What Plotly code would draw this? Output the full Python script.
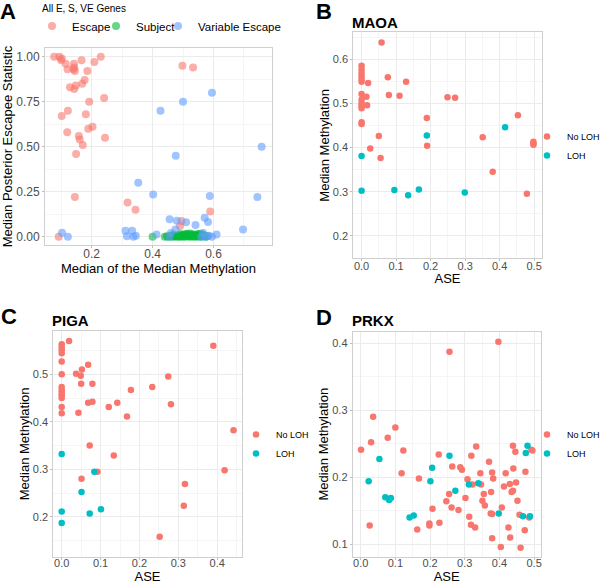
import plotly.graph_objects as go

W, H = 602, 584

# ---- Panel A: all E, S, VE genes ----
esc_x = [0.077, 0.094, 0.102, 0.100, 0.115, 0.142, 0.140, 0.143, 0.121, 0.145, 0.167, 0.209, 0.230,
         0.186, 0.177, 0.169, 0.129, 0.148, 0.143, 0.192, 0.241, 0.122, 0.102, 0.181, 0.203, 0.189,
         0.120, 0.158, 0.161, 0.244, 0.171, 0.498, 0.533, 0.149, 0.145, 0.318, 0.344, 0.589, 0.495,
         0.490, 0.092]
esc_y = [1.00, 1.00, 0.99, 0.98, 0.96, 0.96, 0.93, 0.94, 0.93, 0.92, 0.98, 0.97, 1.00,
         0.92, 0.87, 0.85, 0.83, 0.84, 0.82, 0.75, 0.77, 0.70, 0.67, 0.68, 0.61, 0.60,
         0.58, 0.56, 0.54, 0.55, 0.51, 0.95, 0.94, 0.46, 0.22, 0.19, 0.15, 0.14, 0.087,
         0.06, 0.00]

subj_x = [0.400, 0.440, 0.447, 0.452, 0.458, 0.462, 0.466, 0.470, 0.474, 0.478, 0.481, 0.484,
          0.487, 0.490, 0.493, 0.496, 0.499, 0.502, 0.505, 0.508, 0.511, 0.514, 0.517, 0.520,
          0.523, 0.526, 0.529, 0.532, 0.535, 0.538, 0.541, 0.544, 0.547, 0.550, 0.553, 0.556,
          0.559, 0.562, 0.566, 0.570, 0.575, 0.580, 0.468, 0.492, 0.512, 0.530, 0.548, 0.560,
          0.505, 0.522]
subj_y = [0.000, 0.000, 0.002, 0.000, 0.004, 0.001, 0.000, 0.006, 0.002, 0.000, 0.003, 0.008,
          0.001, 0.000, 0.005, 0.002, 0.010, 0.000, 0.003, 0.007, 0.001, 0.012, 0.004, 0.000,
          0.009, 0.002, 0.006, 0.000, 0.011, 0.003, 0.001, 0.008, 0.000, 0.005, 0.014, 0.002,
          0.000, 0.006, 0.010, 0.003, 0.000, 0.004, 0.012, 0.015, 0.016, 0.014, 0.015, 0.016,
          0.013, 0.018]

ve_x = [0.426, 0.500, 0.595, 0.758, 0.476, 0.353, 0.402, 0.588, 0.744, 0.456, 0.480, 0.510,
        0.541, 0.571, 0.582, 0.697, 0.311, 0.333, 0.316, 0.337, 0.345, 0.103, 0.122, 0.413,
        0.460, 0.475, 0.560, 0.575, 0.585, 0.595, 0.610, 0.566, 0.455]
ve_y = [0.70, 0.75, 0.80, 0.50, 0.45, 0.30, 0.235, 0.226, 0.22, 0.097, 0.088, 0.080,
        0.065, 0.105, 0.082, 0.040, 0.033, 0.033, 0.003, 0.000, 0.005, 0.022, 0.000, 0.013,
        0.020, 0.040, 0.000, 0.000, 0.005, 0.000, 0.012, 0.020, 0.000]

# ---- Panel B: MAOA ----
maoa_no_x = [0.058, 0.0, 0.0, 0.0, 0.0, 0.0, 0.0, 0.019, 0.076, 0.129, 0.0, 0.0, 0.0, 0.0, 0.0,
             0.014, 0.016, 0.079, 0.110, 0.249, 0.271, 0.0, 0.0, 0.189, 0.050, 0.453, 0.351,
             0.498, 0.498, 0.498, 0.025, 0.190, 0.055, 0.380, 0.479]
maoa_no_y = [0.638, 0.585, 0.577, 0.569, 0.562, 0.555, 0.549, 0.546, 0.559, 0.549, 0.521, 0.508,
             0.500, 0.494, 0.489, 0.515, 0.496, 0.519, 0.517, 0.514, 0.513, 0.457, 0.453, 0.467,
             0.426, 0.473, 0.423, 0.413, 0.409, 0.406, 0.398, 0.404, 0.376, 0.345, 0.295]
maoa_loh_x = [0.189, 0.416, 0.0, 0.0, 0.095, 0.135, 0.166, 0.299]
maoa_loh_y = [0.427, 0.446, 0.381, 0.302, 0.304, 0.292, 0.305, 0.298]

# ---- Panel C: PIGA ----
piga_no_x = [0.0, 0.0, 0.0, 0.0, 0.0, 0.019, 0.390, 0.068, 0.052, 0.037, 0.049, 0.0, 0.274,
             0.050, 0.079, 0.0, 0.0, 0.0, 0.0, 0.0, 0.178, 0.233, 0.068, 0.079, 0.121, 0.143,
             0.281, 0.0, 0.0, 0.043, 0.168, 0.442, 0.072, 0.134, 0.092, 0.051, 0.419, 0.317,
             0.314, 0.252]
piga_no_y = [0.563, 0.557, 0.551, 0.544, 0.527, 0.570, 0.560, 0.520, 0.510, 0.501, 0.497, 0.500,
             0.495, 0.480, 0.480, 0.473, 0.467, 0.461, 0.456, 0.450, 0.467, 0.473, 0.440, 0.442,
             0.431, 0.440, 0.437, 0.431, 0.418, 0.419, 0.411, 0.382, 0.350, 0.329, 0.295, 0.280,
             0.298, 0.269, 0.223, 0.158]
piga_loh_x = [0.0, 0.084, 0.051, 0.0, 0.0, 0.072, 0.101]
piga_loh_y = [0.332, 0.295, 0.252, 0.211, 0.187, 0.207, 0.216]

# ---- Panel D: PRKX ----
prkx_no_x = [0.397, 0.256, 0.036, 0.100, 0.078, 0.001, 0.030, 0.123, 0.225, 0.319, 0.333, 0.439,
             0.446, 0.495, 0.370, 0.287, 0.264, 0.292, 0.440, 0.345, 0.379, 0.418, 0.475, 0.118,
             0.168, 0.308, 0.382, 0.322, 0.347, 0.430, 0.448, 0.413, 0.376, 0.435, 0.439, 0.355,
             0.255, 0.302, 0.247, 0.351, 0.452, 0.358, 0.262, 0.207, 0.282, 0.407, 0.313, 0.375,
             0.379, 0.458, 0.486, 0.026, 0.198, 0.198, 0.227, 0.318, 0.330, 0.163, 0.426, 0.473,
             0.379, 0.431, 0.404, 0.461, 0.492]
prkx_no_y = [0.402, 0.387, 0.290, 0.274, 0.259, 0.241, 0.252, 0.240, 0.234, 0.232, 0.246, 0.247,
             0.238, 0.240, 0.223, 0.215, 0.216, 0.211, 0.213, 0.206, 0.207, 0.206, 0.208, 0.206,
             0.198, 0.197, 0.198, 0.189, 0.189, 0.190, 0.192, 0.186, 0.178, 0.178, 0.180, 0.175,
             0.175, 0.169, 0.164, 0.165, 0.165, 0.158, 0.155, 0.153, 0.151, 0.155, 0.141, 0.146,
             0.145, 0.144, 0.140, 0.128, 0.131, 0.128, 0.132, 0.129, 0.125, 0.122, 0.125, 0.121,
             0.109, 0.110, 0.096, 0.095, 0.241]
prkx_loh_x = [0.054, 0.023, 0.071, 0.082, 0.087, 0.141, 0.153, 0.201, 0.206, 0.256, 0.273, 0.312,
              0.339, 0.398, 0.468, 0.488, 0.476, 0.481]
prkx_loh_y = [0.227, 0.194, 0.170, 0.166, 0.169, 0.140, 0.143, 0.194, 0.214, 0.232, 0.180, 0.189,
              0.191, 0.146, 0.142, 0.142, 0.236, 0.247]

RED, TEAL = "#F8766D", "#00BFC4"
FONT = "Liberation Sans, Arial, sans-serif"


def px_dom(a, b):
    return [a / W, b / W]


def py_dom(top, bottom):
    return [1 - bottom / H, 1 - top / H]


fig = go.Figure()

# panel A traces, one small legend per category so they sit where ggplot put them
for xs, ys, name, col, lg in [(esc_x, esc_y, "Escape", "#F8766D", "legend"),
                              (subj_x, subj_y, "Subject", "#00BA38", "legend5"),
                              (ve_x, ve_y, "Variable Escape", "#619CFF", "legend6")]:
    fig.add_trace(go.Scatter(x=xs, y=ys, mode="markers", name=name, xaxis="x", yaxis="y",
                             marker=dict(color=col, size=8, opacity=0.6), legend=lg, showlegend=True))

# panels B-D
panels = [("x2", "y2", "legend2", maoa_no_x, maoa_no_y, maoa_loh_x, maoa_loh_y),
          ("x3", "y3", "legend3", piga_no_x, piga_no_y, piga_loh_x, piga_loh_y),
          ("x4", "y4", "legend4", prkx_no_x, prkx_no_y, prkx_loh_x, prkx_loh_y)]
for xa, ya, lg, nx, ny, lx, ly in panels:
    fig.add_trace(go.Scatter(x=nx, y=ny, mode="markers", name="No LOH", xaxis=xa, yaxis=ya,
                             marker=dict(color=RED, size=6.5), legend=lg, showlegend=True))
    fig.add_trace(go.Scatter(x=lx, y=ly, mode="markers", name="LOH", xaxis=xa, yaxis=ya,
                             marker=dict(color=TEAL, size=6.5), legend=lg, showlegend=True))


def ax(domain, rng, dtick, fmt, title, anchor, tsize=12, standoff=0, lstand=0):
    return dict(domain=domain, range=rng, dtick=dtick, tick0=0, tickformat=fmt,
                showgrid=True, gridcolor="#EBEBEB", gridwidth=1, zeroline=False,
                minor=dict(showgrid=True, gridcolor="#F5F5F5", dtick=dtick / 2, tick0=0),
                showline=True, mirror=True, linecolor="#CFCFCF", linewidth=1,
                ticks="outside", ticklen=2, tickcolor="#BDBDBD", automargin=False,
                ticklabelstandoff=lstand,
                tickfont=dict(size=tsize, color="#4D4D4D", family=FONT),
                title=dict(text=title, font=dict(size=13, color="black", family=FONT), standoff=standoff),
                anchor=anchor)


def leg(xp, yp, size):
    return dict(x=xp / W, y=1 - yp / H, xanchor="left", yanchor="middle",
                font=dict(size=size, color="black", family=FONT), bgcolor="rgba(0,0,0,0)")


fig.update_layout(
    width=W, height=H, margin=dict(l=0, r=0, t=0, b=0, autoexpand=False), showlegend=True,
    paper_bgcolor="white", plot_bgcolor="white", font=dict(family=FONT),
    xaxis=ax(px_dom(45, 272), [0.047, 0.792], 0.2, ".1f", "Median of the Median Methylation", "y", 12, 0, -4),
    yaxis=ax(py_dom(48, 245), [-0.046, 1.048], 0.25, ".2f", "Median Posterior Escapee Statistic", "x", 12, 3),
    xaxis2=ax(px_dom(353.3, 541.7), [-0.024, 0.522], 0.1, ".1f", "ASE", "y2", 11, 0, -5),
    yaxis2=ax(py_dom(32.3, 258.3), [0.149, 0.661], 0.1, ".1f", "Median Methylation", "x2", 11, 0),
    xaxis3=ax(px_dom(53.3, 241.7), [-0.0216, 0.463], 0.1, ".1f", "ASE", "y3", 11, 0, -6),
    yaxis3=ax(py_dom(331, 556.7), [0.116, 0.591], 0.1, ".1f", "Median Methylation", "x3", 11, 0),
    xaxis4=ax(px_dom(352.7, 540.7), [-0.023, 0.519], 0.1, ".1f", "ASE", "y4", 11, 0, -6),
    yaxis4=ax(py_dom(331.7, 556.7), [0.0815, 0.417], 0.1, ".1f", "Median Methylation", "x4", 11, 0),
    legend=leg(32, 26, 11.5),
    legend5=leg(96, 26, 11.5),
    legend6=leg(158, 26, 11.5),
    legend2=leg(527, 146, 9),
    legend3=leg(236, 444, 9),
    legend4=leg(527, 444, 9),
)

# panel letters, gene titles and the panel A legend heading
for txt, x, y, sz in [("<b>A</b>", -2, 12, 22), ("<b>B</b>", 314, 11, 22), ("<b>C</b>", -1, 316, 22),
                      ("<b>D</b>", 314, 317, 22), ("<b>MAOA</b>", 350, 22, 15), ("<b>PIGA</b>", 50, 320, 15),
                      ("<b>PRKX</b>", 350, 320, 15), ("All E, S, VE Genes", 40, 8, 10)]:
    fig.add_annotation(text=txt, x=x / W, y=1 - y / H, xref="paper", yref="paper",
                       xanchor="left", yanchor="middle", showarrow=False,
                       font=dict(size=sz, color="black", family=FONT))

# the page body has a default 8px margin; drop it so the figure sits at the window corner
fig.write_html("out.html", config={"displayModeBar": False},
               post_script="document.body.style.margin='0';")
